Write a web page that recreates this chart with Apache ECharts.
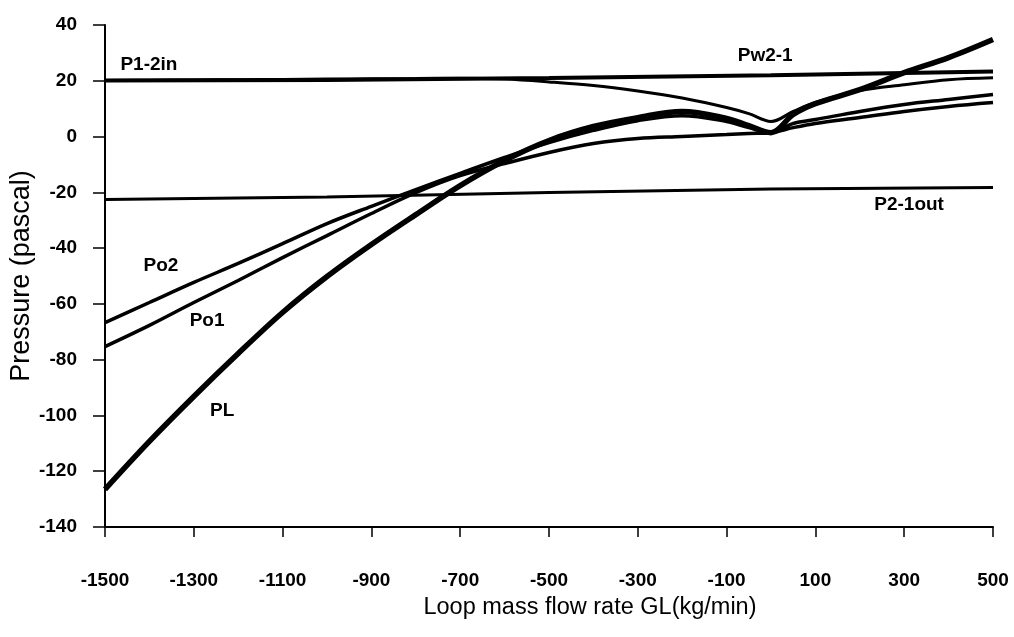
<!DOCTYPE html>
<html><head><meta charset="utf-8">
<script src="https://cdn.jsdelivr.net/npm/echarts@6/dist/echarts.min.js"></script>
<style>html,body{margin:0;padding:0;background:#fff}#c{width:1014px;height:637px}</style>
</head><body><div id="c"></div>
<script>
// ---- data ----
const xGrid = [-1500,-1400,-1300,-1200,-1100,-1000,-900,-800,-700,-600,-500,-400,-300,-200,-100,-50,0,50,100,200,300,400,500];
const PL   = [-126.5,-109.3,-93.2,-77.8,-63.1,-50.2,-38.7,-28.0,-17.6,-8.6,-1.4,3.6,6.8,9.0,6.5,3.9,1.4,7.9,11.8,16.8,22.9,28.3,34.8];
const Po2  = [-66.7,-59.5,-52.3,-45.5,-38.4,-31.2,-25.0,-19.0,-13.2,-7.5,-2.2,2.2,5.7,7.5,5.4,3.2,1.4,4.7,6.1,9.0,11.5,13.3,15.1];
const Po1  = [-75.3,-67.7,-59.5,-51.6,-43.4,-35.5,-27.6,-20.1,-14.0,-9.7,-5.7,-2.5,-0.7,0.0,0.7,1.1,1.4,3.2,4.7,6.8,9.0,10.8,12.2];
const Pw21 = [20.1,20.2,20.3,20.4,20.5,20.6,20.7,20.8,20.9,20.6,19.6,18.3,16.3,13.8,10.4,8.2,5.4,9.0,12.2,16.5,18.6,20.4,21.1];
const xFlat   = [-1500,-1000,-500,0,500];
const P12in   = [20.1,20.3,21.0,22.0,23.3];
const P21out  = [-22.6,-21.7,-20.1,-18.8,-18.3];
const xTickValues = [-1500,-1300,-1100,-900,-700,-500,-300,-100,100,300,500];
const curveNames = ['P1-2in','Pw2-1','P2-1out','Po2','Po1','PL'];
const curveLabelAt = [[-1401,25.8],[-13,29],[311,-24.4],[-1374,-46.2],[-1270,-66],[-1236,-98.2]];

const pairs = (xs, ys) => xs.map((x, i) => [x, ys[i]]);
const font = '"Liberation Sans", Arial, sans-serif';

function lineSeries(name, data, width, smooth) {
  return {
    name, type: 'line', data, smooth: smooth ? 0.35 : false, symbol: 'none',
    lineStyle: { color: '#000', width }, z: 3, animation: false
  };
}

const chart = echarts.init(document.getElementById('c'), null, { renderer: 'canvas' });
chart.setOption({
  backgroundColor: '#fff',
  animation: false,
  grid: { left: 105, right: 21, top: 25, bottom: 110, containLabel: false, outerBoundsMode: 'none' },
  xAxis: {
    type: 'value', min: -1500, max: 500, interval: 200,
    name: 'Loop mass flow rate GL(kg/min)', nameLocation: 'middle', nameGap: 69,
    nameMoveOverlap: false,
    nameTextStyle: { fontFamily: font, fontSize: 23.5, color: '#000', padding: [0, 0, 0, 82] },
    axisLine: { onZero: false, lineStyle: { color: '#000', width: 2 } },
    axisTick: { show: true, length: 10, lineStyle: { color: '#000', width: 1.5 } },
    axisLabel: { margin: 44, fontFamily: font, fontSize: 19, fontWeight: 'bold', color: '#000',
      customValues: xTickValues, formatter: v => String(v) },
    splitLine: { show: false }
  },
  yAxis: {
    type: 'value', min: -140, max: 40, interval: 20,
    name: 'Pressure (pascal)', nameLocation: 'middle', nameGap: 70,
    nameMoveOverlap: false,
    nameTextStyle: { fontFamily: font, fontSize: 27, color: '#000' },
    axisLine: { show: true, onZero: false, lineStyle: { color: '#000', width: 2 } },
    axisTick: { show: true, length: 12, lineStyle: { color: '#000', width: 1.5 } },
    axisLabel: { margin: 28, fontFamily: font, fontSize: 19, fontWeight: 'bold', color: '#000' },
    splitLine: { show: false }
  },
  series: [
    lineSeries('P1-2in', pairs(xFlat, P12in), 4, false),
    lineSeries('P2-1out', pairs(xFlat, P21out), 3, false),
    lineSeries('Pw2-1', pairs(xGrid, Pw21), 3, true),
    lineSeries('Po2', pairs(xGrid, Po2), 3.5, true),
    lineSeries('Po1', pairs(xGrid, Po1), 3.5, true),
    lineSeries('PL', pairs(xGrid, PL), 5.5, true),
    {
      type: 'scatter', symbolSize: 0, silent: true, z: 5,
      itemStyle: { opacity: 1 },
      data: curveLabelAt.map((p, i) => ({ value: p, name: curveNames[i] })),
      label: { show: true, position: 'inside', formatter: p => p.name,
        fontFamily: font, fontSize: 19, fontWeight: 'bold', color: '#000' }
    }
  ]
});
</script></body></html>
